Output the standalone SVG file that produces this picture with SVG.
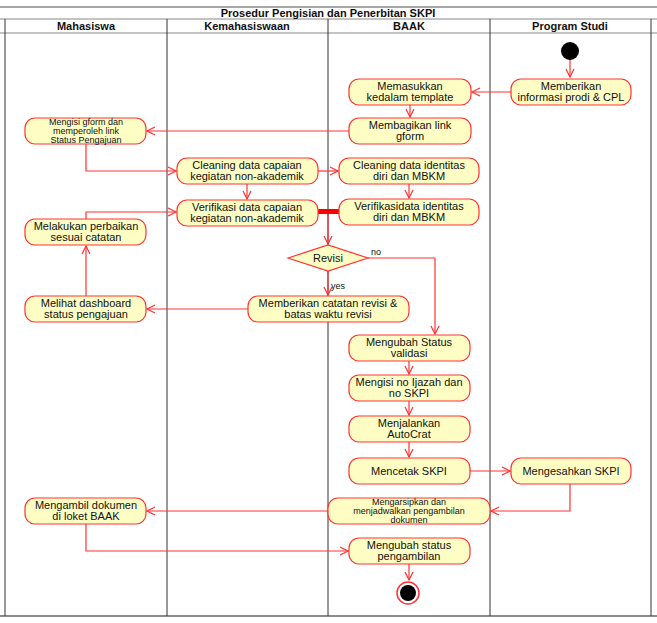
<svg xmlns="http://www.w3.org/2000/svg" width="657" height="623" viewBox="0 0 657 623">
<style>
.n rect{fill:#fefec4;stroke:#f33;stroke-width:1.2}
text{font-family:"Liberation Sans",Arial,sans-serif;font-size:11px;text-anchor:middle;fill:#111}
.s{font-size:9px}
.h{font-weight:bold;font-size:11px}
.c{fill:none;stroke:#f33;stroke-width:1.2}
.lane{stroke:#333;stroke-width:1;fill:none}
</style>
<defs><marker id="a" markerWidth="10" markerHeight="10" refX="9" refY="5" orient="auto" markerUnits="userSpaceOnUse"><path d="M1,1L9,5L1,9" fill="none" stroke="#f33" stroke-width="1.2"/></marker></defs>
<g id="frame">
<rect x="0" y="7" width="657" height="609" fill="#fff" stroke="none"/>
<line x1="0" y1="7" x2="657" y2="7" stroke="#888" stroke-width="1.5"/>
<line x1="0" y1="19" x2="657" y2="19" stroke="#888"/>
<line x1="0" y1="33" x2="657" y2="33" stroke="#888"/>
<line x1="0" y1="616" x2="657" y2="616" stroke="#666" stroke-width="1.5"/>
<path class="lane" d="M5,19V616M167,19V616M328,19V616M490,19V616M651,19V616"/>
<text x="328" y="17" class="h">Prosedur Pengisian dan Penerbitan SKPI</text>
<text x="86" y="30" class="h">Mahasiswa</text>
<text x="247" y="30" class="h">Kemahasiswaan</text>
<text x="409" y="30" class="h">BAAK</text>
<text x="570" y="30" class="h">Program Studi</text>
</g>
<g id="connectors">
<path class="c" d="M570,59V77" marker-end="url(#a)"/>
<path class="c" d="M511,92H472" marker-end="url(#a)"/>
<path class="c" d="M410,105V117" marker-end="url(#a)"/>
<path class="c" d="M349,131H147" marker-end="url(#a)"/>
<path class="c" d="M86,144V171H176" marker-end="url(#a)"/>
<path class="c" d="M318,171H338" marker-end="url(#a)"/>
<path class="c" d="M247,184V199" marker-end="url(#a)"/>
<path class="c" d="M409,184V198" marker-end="url(#a)"/>
<rect x="318" y="209" width="21" height="5" fill="#f00"/>
<path class="c" d="M328,214V244" marker-end="url(#a)"/>
<path class="c" d="M328,271V295" marker-end="url(#a)"/>
<path class="c" d="M368,258H435V334" marker-end="url(#a)"/>
<path class="c" d="M248,309H147" marker-end="url(#a)"/>
<path class="c" d="M86,296V246" marker-end="url(#a)"/>
<path class="c" d="M86,219V212H176" marker-end="url(#a)"/>
<path class="c" d="M409,361V374" marker-end="url(#a)"/>
<path class="c" d="M409,401V415" marker-end="url(#a)"/>
<path class="c" d="M409,442V457" marker-end="url(#a)"/>
<path class="c" d="M470,471H510" marker-end="url(#a)"/>
<path class="c" d="M570,484V511H491" marker-end="url(#a)"/>
<path class="c" d="M328,511H147" marker-end="url(#a)"/>
<path class="c" d="M86,524V551H348" marker-end="url(#a)"/>
<path class="c" d="M409,564V580" marker-end="url(#a)"/>
<text x="376" y="255" style="font-size:9px">no</text>
<text x="338" y="289" style="font-size:9px">yes</text>
</g>
<g id="start"><circle cx="570" cy="51" r="9" fill="#000"/></g>
<g id="n1" class="n"><rect x="511" y="79" width="120" height="26" rx="10"/><text x="571" y="90">Memberikan</text><text x="571" y="101">informasi prodi &amp; CPL</text></g>
<g id="n2" class="n"><rect x="349" y="79" width="122" height="26" rx="10"/><text x="410" y="90">Memasukkan</text><text x="410" y="101">kedalam template</text></g>
<g id="n3" class="n"><rect x="349" y="118" width="122" height="26" rx="10"/><text x="410" y="129">Membagikan link</text><text x="410" y="140">gform</text></g>
<g id="n4" class="n"><rect x="25" y="118" width="121" height="26" rx="10"/><text x="86" y="125" class="s">Mengisi gform dan</text><text x="86" y="134" class="s">memperoleh link</text><text x="86" y="143" class="s">Status Pengajuan</text></g>
<g id="n5" class="n"><rect x="177" y="158" width="141" height="26" rx="10"/><text x="247" y="169">Cleaning data capaian</text><text x="247" y="180">kegiatan non-akademik</text></g>
<g id="n6" class="n"><rect x="339" y="158" width="140" height="26" rx="10"/><text x="409" y="169">Cleaning data identitas</text><text x="409" y="180">diri dan MBKM</text></g>
<g id="n7" class="n"><rect x="177" y="200" width="141" height="26" rx="10"/><text x="247" y="211">Verifikasi data capaian</text><text x="247" y="222">kegiatan non-akademik</text></g>
<g id="n8" class="n"><rect x="339" y="199" width="140" height="26" rx="10"/><text x="409" y="210">Verifikasidata identitas</text><text x="409" y="221">diri dan MBKM</text></g>
<g id="n9" class="n"><rect x="25" y="219" width="121" height="26" rx="10"/><text x="86" y="230">Melakukan perbaikan</text><text x="86" y="241">sesuai catatan</text></g>
<g id="d1"><polygon points="288,258 328,245 368,258 328,271" fill="#fefec4" stroke="#f33" stroke-width="1.2"/><text x="328" y="262">Revisi</text></g>
<g id="n10" class="n"><rect x="248" y="296" width="161" height="26" rx="10"/><text x="328" y="307">Memberikan catatan revisi &amp;</text><text x="328" y="318">batas waktu revisi</text></g>
<g id="n11" class="n"><rect x="25" y="296" width="121" height="26" rx="10"/><text x="86" y="307">Melihat dashboard</text><text x="86" y="318">status pengajuan</text></g>
<g id="n12" class="n"><rect x="349" y="335" width="121" height="26" rx="10"/><text x="409" y="346">Mengubah Status</text><text x="409" y="357">validasi</text></g>
<g id="n13" class="n"><rect x="349" y="375" width="121" height="26" rx="10"/><text x="409" y="386">Mengisi no Ijazah dan</text><text x="409" y="397">no SKPI</text></g>
<g id="n14" class="n"><rect x="349" y="416" width="121" height="26" rx="10"/><text x="409" y="427">Menjalankan</text><text x="409" y="438">AutoCrat</text></g>
<g id="n15" class="n"><rect x="349" y="458" width="121" height="26" rx="10"/><text x="409" y="475">Mencetak SKPI</text></g>
<g id="n16" class="n"><rect x="511" y="458" width="120" height="26" rx="10"/><text x="571" y="475">Mengesahkan SKPI</text></g>
<g id="n17" class="n"><rect x="328" y="498" width="162" height="26" rx="10"/><text x="409" y="505" class="s">Mengarsipkan dan</text><text x="409" y="514" class="s">menjadwalkan pengambilan</text><text x="409" y="523" class="s">dokumen</text></g>
<g id="n18" class="n"><rect x="25" y="498" width="121" height="26" rx="10"/><text x="86" y="509">Mengambil dokumen</text><text x="86" y="520">di loket BAAK</text></g>
<g id="n19" class="n"><rect x="349" y="538" width="121" height="26" rx="10"/><text x="409" y="549">Mengubah status</text><text x="409" y="560">pengambilan</text></g>
<g id="end"><circle cx="408" cy="593" r="11" fill="#fff" stroke="#f33" stroke-width="1.5"/><circle cx="408" cy="593" r="8" fill="#000"/></g>
</svg>
